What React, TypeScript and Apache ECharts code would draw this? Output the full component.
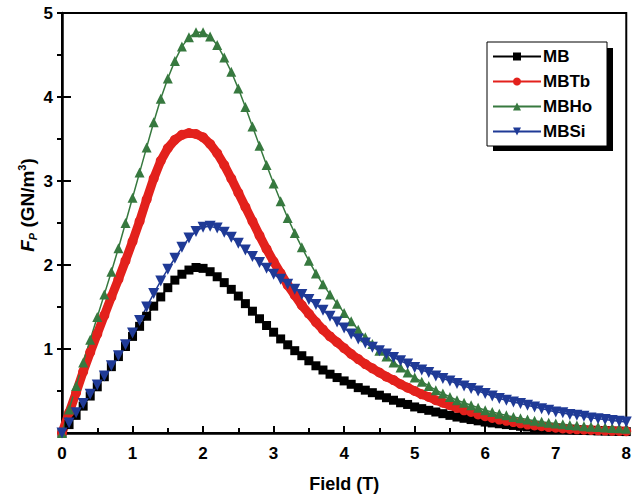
import React, { useEffect, useRef } from "react";
import * as echarts from "echarts";

const fieldT = [
  0, 0.1, 0.2, 0.3, 0.4, 0.5, 0.6, 0.7, 0.8, 0.9,
  1, 1.1, 1.2, 1.3, 1.4, 1.5, 1.6, 1.7, 1.8, 1.9,
  2, 2.1, 2.2, 2.3, 2.4, 2.5, 2.6, 2.7, 2.8, 2.9,
  3, 3.1, 3.2, 3.3, 3.4, 3.5, 3.6, 3.7, 3.8, 3.9,
  4, 4.1, 4.2, 4.3, 4.4, 4.5, 4.6, 4.7, 4.8, 4.9,
  5, 5.1, 5.2, 5.3, 5.4, 5.5, 5.6, 5.7, 5.8, 5.9,
  6, 6.1, 6.2, 6.3, 6.4, 6.5, 6.6, 6.7, 6.8, 6.9,
  7, 7.1, 7.2, 7.3, 7.4, 7.5, 7.6, 7.7, 7.8, 7.9,
  8,
];

const mb = [
  0, 0.1, 0.21, 0.32, 0.44, 0.55, 0.67, 0.79, 0.91, 1.03,
  1.15, 1.27, 1.39, 1.51, 1.62, 1.73, 1.82, 1.89, 1.94, 1.97,
  1.96, 1.92, 1.86, 1.79, 1.71, 1.63, 1.54, 1.45, 1.36, 1.28,
  1.2, 1.12, 1.05, 0.98, 0.92, 0.86, 0.8, 0.75, 0.7, 0.66,
  0.62, 0.58, 0.54, 0.51, 0.48, 0.45, 0.42, 0.39, 0.36, 0.34,
  0.31, 0.29, 0.27, 0.25, 0.23, 0.21, 0.19, 0.175, 0.16, 0.145,
  0.13, 0.12, 0.11, 0.1, 0.09, 0.08, 0.072, 0.065, 0.058, 0.052,
  0.047, 0.042, 0.038, 0.034, 0.031, 0.028, 0.025, 0.023, 0.021, 0.019,
  0.017,
];

const mbtb = [
  0, 0.24, 0.48, 0.73, 0.96, 1.18, 1.4, 1.62, 1.83, 2.05,
  2.28, 2.52, 2.78, 3.03, 3.24, 3.39, 3.49, 3.55, 3.57, 3.56,
  3.52, 3.44, 3.33, 3.19, 3.03, 2.86, 2.69, 2.52, 2.35, 2.19,
  2.04, 1.9, 1.76, 1.64, 1.52, 1.42, 1.32, 1.23, 1.15, 1.08,
  1.01, 0.94, 0.88, 0.82, 0.77, 0.72, 0.67, 0.63, 0.58, 0.54,
  0.5, 0.46, 0.43, 0.39, 0.36, 0.33, 0.3, 0.27, 0.25, 0.22,
  0.2, 0.18, 0.16, 0.145, 0.13, 0.115, 0.1, 0.09, 0.08, 0.07,
  0.062, 0.055, 0.049, 0.044, 0.04, 0.036, 0.032, 0.029, 0.026, 0.024,
  0.022,
];

const mbho = [
  0, 0.28, 0.56, 0.84, 1.11, 1.38, 1.65, 1.92, 2.2, 2.5,
  2.8, 3.1, 3.4, 3.7, 3.98, 4.22, 4.43, 4.6, 4.71, 4.77,
  4.77, 4.72, 4.62, 4.47, 4.3, 4.1, 3.88, 3.65, 3.42, 3.19,
  2.97, 2.76, 2.56, 2.38, 2.21, 2.05, 1.9, 1.77, 1.65, 1.54,
  1.43, 1.33, 1.23, 1.14, 1.06, 0.98, 0.91, 0.84, 0.78, 0.72,
  0.66, 0.61, 0.56, 0.51, 0.47, 0.43, 0.39, 0.36, 0.33, 0.3,
  0.27, 0.25, 0.23, 0.21, 0.19, 0.175, 0.16, 0.145, 0.133, 0.122,
  0.112, 0.103, 0.095, 0.088, 0.081, 0.075, 0.07, 0.065, 0.06, 0.056,
  0.052,
];

const mbsi = [
  0, 0.12, 0.24, 0.35, 0.46, 0.57, 0.68, 0.8, 0.92, 1.05,
  1.19, 1.34, 1.5, 1.66, 1.81, 1.95, 2.08, 2.21, 2.32, 2.4,
  2.45, 2.46, 2.44, 2.39, 2.33, 2.26, 2.18, 2.1, 2.03, 1.96,
  1.89, 1.83, 1.77, 1.71, 1.65, 1.59, 1.53, 1.46, 1.39, 1.32,
  1.25, 1.18, 1.12, 1.07, 1.02, 0.98, 0.94, 0.9, 0.86, 0.82,
  0.78, 0.75, 0.72, 0.68, 0.65, 0.62, 0.59, 0.56, 0.53, 0.5,
  0.47, 0.44, 0.41, 0.39, 0.37, 0.35, 0.33, 0.31, 0.29, 0.27,
  0.25, 0.24, 0.22, 0.21, 0.2, 0.18, 0.17, 0.16, 0.15, 0.14,
  0.13,
];

const xTicks = [0, 1, 2, 3, 4, 5, 6, 7, 8];
const yTicks = [0, 1, 2, 3, 4, 5];
const seriesNames = ["MB", "MBTb", "MBHo", "MBSi"];

const FONT = "Liberation Sans, Arial, Helvetica, sans-serif";

export default function App() {
  const ref = useRef<HTMLDivElement>(null);
  useEffect(() => {
    document.body.style.margin = "0";
    const chart = echarts.init(ref.current!, null, { renderer: "svg" });
    const pairs = (ys: number[]) => fieldT.map((x, i) => [x, ys[i]]);
    const axisLabelStyle = {
      fontSize: 17,
      fontWeight: "bold" as const,
      color: "#000",
      fontFamily: FONT,
    };
    chart.setOption({
      animation: false,
      backgroundColor: "#fff",
      grid: {
        left: 62,
        top: 13,
        right: 4,
        bottom: 66,
        show: true,
        borderColor: "#000",
        borderWidth: 2,
        backgroundColor: "transparent",
      },
      xAxis: {
        type: "value",
        min: xTicks[0],
        max: xTicks[xTicks.length - 1],
        interval: 1,
        axisLine: { show: true, onZero: false, lineStyle: { color: "#000", width: 2.5 } },
        axisTick: { show: true, inside: true, length: 7, lineStyle: { color: "#000", width: 2 } },
        minorTick: { show: true, splitNumber: 2, length: 5, lineStyle: { color: "#000", width: 2 } },
        axisLabel: { ...axisLabelStyle, margin: 12 },
        splitLine: { show: false },
        name: "Field (T)",
        nameLocation: "middle",
        nameGap: 42,
        nameTextStyle: { fontSize: 18, fontWeight: "bold", color: "#000", fontFamily: FONT },
      },
      yAxis: [
        {
          type: "value",
          min: yTicks[0],
          max: yTicks[yTicks.length - 1],
          interval: 1,
          position: "left",
          axisLine: { show: true, onZero: false, lineStyle: { color: "#000", width: 2.5 } },
          axisTick: { show: true, inside: true, length: 9, lineStyle: { color: "#000", width: 2 } },
          axisLabel: {
            ...axisLabelStyle,
            margin: 9,
            formatter: (v: number) => (v === 0 ? "" : String(v)),
          },
          splitLine: { show: false },
        },
        {
          type: "value",
          min: yTicks[0],
          max: yTicks[yTicks.length - 1],
          interval: 0.5,
          position: "left",
          axisLine: { show: false },
          axisTick: { show: true, inside: false, length: 5, lineStyle: { color: "#000", width: 2 } },
          axisLabel: { show: false },
          splitLine: { show: false },
        },
      ],
      legend: {
        orient: "vertical",
        left: 487,
        top: 42,
        padding: [6, 5, 6, 5],
        itemGap: 8,
        itemWidth: 48,
        itemHeight: 10,
        z: 10,
        data: seriesNames,
        lineStyle: { width: 2 },
        textStyle: { fontSize: 17, fontWeight: "bold", color: "#000", fontFamily: FONT, padding: [0, 0, 0, -3] },
      },
      graphic: [
        {
          type: "rect",
          z: 5,
          shape: { x: 493, y: 48, width: 120, height: 103 },
          style: { fill: "#000" },
        },
        {
          type: "rect",
          z: 6,
          shape: { x: 487, y: 42, width: 120, height: 104 },
          style: { fill: "#fff", stroke: "#000", lineWidth: 1 },
        },
        {
          type: "text",
          x: 27,
          y: 205,
          rotation: Math.PI / 2,
          style: {
            text: "{i|F}{s|P}{n| (GN/m}{p|3}{n|)}",
            align: "center",
            verticalAlign: "middle",
            fill: "#000",
            rich: {
              i: { fontSize: 19, fontWeight: "bold", fontStyle: "italic", fontFamily: FONT, lineHeight: 22 },
              s: { fontSize: 11, fontWeight: "bold", fontStyle: "italic", fontFamily: FONT, lineHeight: 11, verticalAlign: "bottom" },
              n: { fontSize: 19, fontWeight: "bold", fontFamily: FONT, lineHeight: 22 },
              p: { fontSize: 11, fontWeight: "bold", fontFamily: FONT, lineHeight: 11, verticalAlign: "top" },
            },
          },
        },
      ],
      series: [
        {
          name: seriesNames[0],
          type: "line",
          data: pairs(mb),
          symbol: "rect",
          symbolSize: 9,
          color: "#000000",
          lineStyle: { width: 1.5, color: "#000000" },
          itemStyle: { color: "#000000" },
        },
        {
          name: seriesNames[1],
          type: "line",
          data: pairs(mbtb),
          symbol: "circle",
          symbolSize: 10,
          color: "#e3211c",
          lineStyle: { width: 9, color: "#e3211c" },
          itemStyle: { color: "#e3211c" },
        },
        {
          name: seriesNames[2],
          type: "line",
          data: pairs(mbho),
          symbol: "triangle",
          symbolSize: 10,
          color: "#37793f",
          lineStyle: { width: 1.5, color: "#37793f" },
          itemStyle: { color: "#37793f" },
        },
        {
          name: seriesNames[3],
          type: "line",
          data: pairs(mbsi),
          symbol: "triangle",
          symbolRotate: 180,
          symbolSize: 11,
          color: "#1f3a96",
          lineStyle: { width: 1.5, color: "#1f3a96" },
          itemStyle: { color: "#1f3a96" },
        },
      ],
    });
    return () => chart.dispose();
  }, []);
  return <div ref={ref} style={{ width: 634, height: 499 }} />;
}
